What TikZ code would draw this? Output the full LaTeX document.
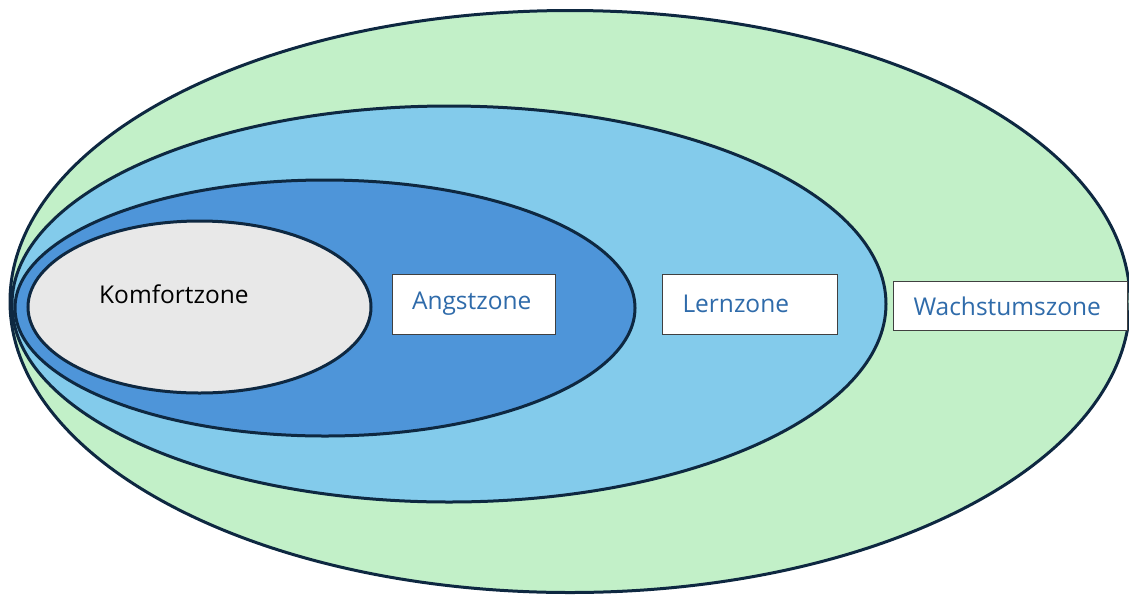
\documentclass[tikz,border=0pt]{standalone}
\usepackage{fontspec}
\setmainfont{Open Sans}
\definecolor{zgreen}{HTML}{C2F0C8}
\definecolor{zlight}{HTML}{83CBEB}
\definecolor{zdark}{HTML}{4E95D9}
\definecolor{zgrey}{HTML}{E8E8E8}
\definecolor{zline}{HTML}{0E2841}
\definecolor{ztext}{HTML}{2F6BAA}
\begin{document}
\begin{tikzpicture}[x=1pt,y=-1pt,
  zone/.style={draw=zline,line width=3pt},
  label/.style={draw=black!75,fill=white,line width=1pt,font=\fontsize{24.5}{28}\selectfont,text=ztext,
    align=left,inner xsep=20pt,inner ysep=0pt,anchor=north west}]
\useasboundingbox (0,0) rectangle (1129,595);
\path[zone,fill=zgreen] (570,301.5) ellipse [x radius=560, y radius=291];
\path[zone,fill=zlight] (449,304) ellipse [x radius=437, y radius=198];
\path[zone,fill=zdark] (325,308) ellipse [x radius=310, y radius=128];
\path[zone,fill=zgrey] (199.5,307) ellipse [x radius=171.5, y radius=86];
\node[font=\fontsize{24.5}{28}\selectfont,text=black,anchor=west,inner sep=0pt] (komfort) at (99,294) {Komfortzone};
\node[label,text width=123.5pt,minimum height=60pt] (angst) at (391.5,273.5) {Angstzone};
\node[label,text width=134.5pt,minimum height=60pt] (lern) at (662,273.5) {Lernzone};
\node[label,text width=193.5pt,minimum height=49pt] (wachstum) at (893,281) {Wachstumszone};
\end{tikzpicture}
\end{document}
